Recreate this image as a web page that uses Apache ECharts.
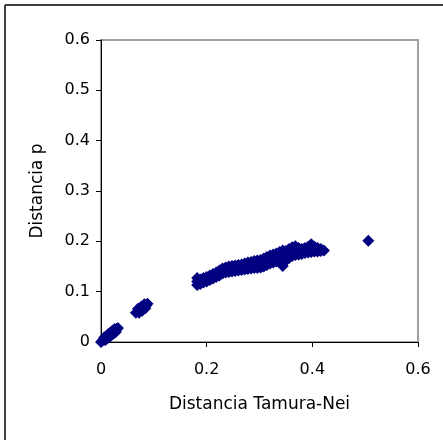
<!DOCTYPE html>
<html>
<head>
<meta charset="utf-8">
<script src="https://cdn.jsdelivr.net/npm/echarts@6/dist/echarts.min.js"></script>
<style>
  html, body { margin: 0; padding: 0; background: #fff; }
  #chart { width: 443px; height: 440px; }
</style>
</head>
<body>
<div id="chart"></div>
<script>
// Pairwise distances: Tamura-Nei (x) against p-distance (y)
const tamuraNei = [
  // closest pairs
  0.000, 0.003, 0.006, 0.009, 0.012, 0.015, 0.018, 0.021, 0.024, 0.027, 0.030, 0.032,
  0.006, 0.010, 0.014, 0.018, 0.022, 0.026,
  0.008, 0.012, 0.016, 0.020, 0.024, 0.028,
  // second group
  0.066, 0.070, 0.074, 0.078, 0.082, 0.086, 0.088, 0.070, 0.076, 0.082, 0.072, 0.078, 0.084,
  // main group
  0.182, 0.182, 0.182, 0.188, 0.188, 0.194, 0.194, 0.200, 0.200,
  0.206, 0.206, 0.212, 0.212, 0.218, 0.218, 0.224, 0.224,
  0.230, 0.230, 0.236, 0.236, 0.242, 0.242, 0.248, 0.248,
  0.254, 0.254, 0.260, 0.260, 0.266, 0.266,
  0.272, 0.272, 0.272, 0.278, 0.278, 0.278, 0.284, 0.284, 0.284,
  0.290, 0.290, 0.290, 0.296, 0.296, 0.296, 0.302, 0.302, 0.302,
  0.308, 0.308, 0.308, 0.314, 0.314, 0.314, 0.320, 0.320, 0.320,
  0.326, 0.326, 0.326, 0.332, 0.332, 0.332, 0.338, 0.338, 0.338,
  0.344, 0.344, 0.344, 0.344, 0.344, 0.350, 0.350, 0.350,
  0.356, 0.356, 0.356, 0.362, 0.362, 0.362, 0.368, 0.368, 0.368,
  0.374, 0.374, 0.374, 0.380, 0.380, 0.386, 0.386, 0.392, 0.392,
  0.398, 0.398, 0.404, 0.404, 0.410, 0.410, 0.416, 0.416, 0.422,
  // most distant pair
  0.506
];
const distanciaP = [
  0.000, 0.003, 0.005, 0.008, 0.011, 0.013, 0.016, 0.018, 0.021, 0.023, 0.026, 0.028,
  0.009, 0.012, 0.016, 0.019, 0.023, 0.026,
  0.004, 0.007, 0.010, 0.014, 0.017, 0.020,
  0.058, 0.061, 0.064, 0.067, 0.070, 0.073, 0.076, 0.066, 0.070, 0.075, 0.058, 0.062, 0.067,
  0.113, 0.120, 0.127, 0.115, 0.124, 0.118, 0.127, 0.120, 0.129,
  0.123, 0.132, 0.126, 0.135, 0.129, 0.138, 0.132, 0.142,
  0.136, 0.146, 0.138, 0.148, 0.139, 0.150, 0.140, 0.151,
  0.141, 0.152, 0.142, 0.153, 0.143, 0.154,
  0.144, 0.150, 0.156, 0.145, 0.151, 0.158, 0.146, 0.152, 0.159,
  0.147, 0.154, 0.161, 0.147, 0.155, 0.162, 0.148, 0.156, 0.163,
  0.150, 0.158, 0.166, 0.153, 0.161, 0.169, 0.156, 0.164, 0.172,
  0.158, 0.166, 0.174, 0.160, 0.168, 0.176, 0.161, 0.170, 0.179,
  0.151, 0.160, 0.168, 0.176, 0.182, 0.162, 0.170, 0.181,
  0.167, 0.176, 0.185, 0.171, 0.180, 0.188, 0.173, 0.182, 0.190,
  0.174, 0.183, 0.187, 0.175, 0.185, 0.177, 0.187, 0.178, 0.189,
  0.179, 0.194, 0.180, 0.189, 0.180, 0.187, 0.181, 0.185, 0.182,
  0.201
];
const xTicks = [0, 0.2, 0.4, 0.6];
const yTicks = [0, 0.1, 0.2, 0.3, 0.4, 0.5, 0.6];

const points = tamuraNei.map((x, i) => [x, distanciaP[i]]);
const font = 'DejaVu Sans';
const tickText = v => String(Math.round(v * 10) / 10);

const chart = echarts.init(document.getElementById('chart'), null, { renderer: 'canvas' });
chart.setOption({
  animation: false,
  backgroundColor: '#ffffff',
  grid: {
    left: 101, right: 25, top: 40, bottom: 98,
    show: true, borderColor: '#a0a0a0', borderWidth: 2, backgroundColor: 'transparent'
  },
  // outer chart frame (left and top edges)
  graphic: [
    { type: 'line', shape: { x1: 5, y1: 5, x2: 5, y2: 440 }, style: { stroke: '#404040', lineWidth: 2 } },
    { type: 'line', shape: { x1: 5, y1: 5, x2: 443, y2: 5 }, style: { stroke: '#404040', lineWidth: 2 } }
  ],
  xAxis: {
    type: 'value', min: xTicks[0], max: xTicks[xTicks.length - 1], interval: 0.2,
    name: 'Distancia Tamura-Nei', nameLocation: 'middle', nameGap: 54,
    nameTextStyle: { fontFamily: font, fontSize: 17, color: '#000' },
    axisLine: { show: true, onZero: false, lineStyle: { color: '#000', width: 1 } },
    axisTick: { show: true, inside: false, length: 5, lineStyle: { color: '#000' } },
    axisLabel: { fontFamily: font, fontSize: 16, color: '#000', margin: 20, formatter: tickText },
    splitLine: { show: false }
  },
  yAxis: {
    type: 'value', min: yTicks[0], max: yTicks[yTicks.length - 1], interval: 0.1,
    name: 'Distancia p', nameLocation: 'middle', nameGap: 55,
    nameTextStyle: { fontFamily: font, fontSize: 17, color: '#000' },
    axisLine: { show: true, onZero: false, lineStyle: { color: '#000', width: 1 } },
    axisTick: { show: true, inside: false, length: 5, lineStyle: { color: '#000' } },
    axisLabel: { fontFamily: font, fontSize: 16, color: '#000', margin: 11, formatter: tickText },
    splitLine: { show: false }
  },
  series: [{
    type: 'scatter',
    data: points,
    symbol: 'diamond',
    symbolSize: 12,
    itemStyle: { color: '#000080', opacity: 1 }
  }]
});
</script>
</body>
</html>
